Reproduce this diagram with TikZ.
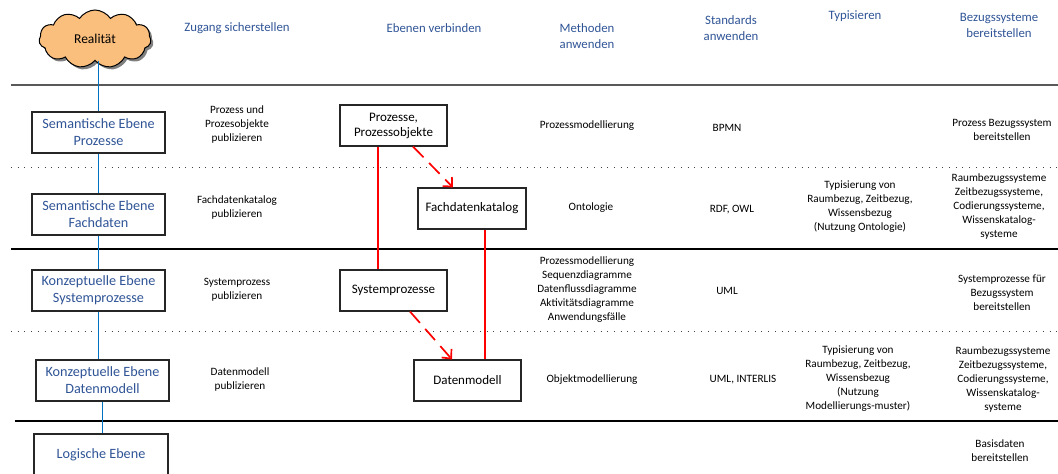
\documentclass[tikz,border=0pt]{standalone}
\usepackage{fontspec}
\setmainfont{Carlito}
\usetikzlibrary{shapes.symbols,shadows,arrows.meta}
\definecolor{hdrblue}{RGB}{47,84,150}
\definecolor{linkblue}{RGB}{0,112,192}
\definecolor{cloudfill}{RGB}{250,190,125}
\definecolor{linkred}{RGB}{255,0,0}

\begin{document}
\begin{tikzpicture}[x=1pt,y=-1pt,
  box/.style={draw=black!85, line width=1.1pt, minimum width=133pt, minimum height=41pt,
              inner sep=0pt, align=center},
  levelbox/.style={box, text=hdrblue, font=\fontsize{14.2}{17}\selectfont},
  linkbox/.style={box, minimum width=107pt, font=\fontsize{13}{15}\selectfont},
  note/.style={align=center, inner sep=0pt, font=\fontsize{11.2}{14}\selectfont},
  head/.style={align=center, inner sep=0pt, text=hdrblue, font=\fontsize{12.8}{16}\selectfont},
  tier/.style={line width=1.2pt, draw=black},
  toptier/.style={line width=1.8pt, draw=black!65},
  subtier/.style={line width=0.9pt, draw=black!75, dash pattern=on 0.9pt off 5.8pt},
  levellink/.style={draw=linkblue, line width=1.3pt},
  redlink/.style={draw=linkred, line width=1.7pt},
  reddash/.style={redlink, dash pattern=on 15pt off 8pt,
                  -{Straight Barb[length=7pt,width=13pt,line width=1.7pt]}}
]
\useasboundingbox (0,0) rectangle (1058,474);
\clip (0,0) rectangle (1058,474);

% horizontal separators between the layers
\draw[toptier] (11,85) -- (1058,85);
\draw[subtier] (11,167) -- (1058,167);
\draw[tier] (11,249) -- (1058,249);
\draw[subtier] (11,331) -- (1058,331);
\draw[tier] (15,421) -- (1058,421);

% column headers
\node[head] (h1) at (237,28) {Zugang sicherstellen};
\node[head] (h2) at (434,28) {Ebenen verbinden};
\node[head] (h3) at (587,36) {Methoden\\anwenden};
\node[head] (h4) at (731,28) {Standards\\anwenden};
\node[head] (h5) at (855,16) {Typisieren};
\node[head] (h6) at (999,25) {Bezugssysteme\\bereitstellen};

% reality cloud and the layer boxes
\node[cloud, cloud puffs=11, cloud puff arc=115, aspect=2.0, draw=black, line width=1pt,
      fill=cloudfill, minimum width=112pt, minimum height=58pt, inner sep=0pt,
      drop shadow={shadow xshift=2.5pt, shadow yshift=-2.5pt, fill=black!50, opacity=1},
      font=\fontsize{13.5}{15}\selectfont] (real) at (95,39) {Realität};

\node[levelbox] (sem1) at (98.5,132.5) {Semantische Ebene\\Prozesse};
\node[levelbox] (sem2) at (98.5,214.5) {Semantische Ebene\\Fachdaten};
\node[levelbox] (kon1) at (98.5,290.5) {Konzeptuelle Ebene\\Systemprozesse};
\node[levelbox] (kon2) at (102.5,380.5) {Konzeptuelle Ebene\\Datenmodell};
\node[levelbox, minimum width=134pt, minimum height=42pt] (log) at (101,455) {Logische Ebene};

\draw[levellink] (sem1.north) -- (sem1.north |- real.south);
\draw[levellink] (sem1.south) -- (sem2.north);
\draw[levellink] (sem2.south) -- (kon1.north);
\draw[levellink] (kon1.south) -- (kon1.south |- kon2.north);
\draw[levellink] (kon2.south) -- (kon2.south |- log.north);

% publication notes
\node[note] (p1) at (237,125) {Prozess und\\Prozesobjekte\\publizieren};
\node[note] (p2) at (237,208) {Fachdatenkatalog\\publizieren};
\node[note] (p3) at (237,290) {Systemprozess\\publizieren};
\node[note] (p4) at (240,380) {Datenmodell\\publizieren};

% linking boxes
\node[linkbox] (proz) at (393.5,125.5) {Prozesse,\\Prozessobjekte};
\node[linkbox, minimum width=108pt] (fach) at (472,208.5) {Fachdatenkatalog};
\node[linkbox] (sysp) at (393.5,290.5) {Systemprozesse};
\node[linkbox] (datm) at (467.5,380.5) {Datenmodell};

\draw[redlink] ([xshift=-15.5pt]proz.south) -- ([xshift=-15.5pt]proz.south |- sysp.north);
\draw[redlink] ([xshift=13pt]fach.south) -- ([xshift=13pt]fach.south |- datm.north);
\draw[reddash] ([xshift=19.5pt]proz.south) -- ([xshift=-19pt]fach.north);
\draw[reddash] ([xshift=16.5pt]sysp.south) -- ([xshift=-15.5pt]datm.north);

% methods
\node[note] (m1) at (587,126) {Prozessmodellierung};
\node[note] (m2) at (591,208) {Ontologie};
\node[note] (m3) at (587,290) {Prozessmodellierung\\Sequenzdiagramme\\Datenflussdiagramme\\Aktivitätsdiagramme\\Anwendungsfälle};
\node[note] (m4) at (592,380) {Objektmodellierung};

% standards
\node[note] (s1) at (727,128) {BPMN};
\node[note] (s2) at (732,210) {RDF, OWL};
\node[note] (s3) at (727,291) {UML};
\node[note] (s4) at (743,380) {UML, INTERLIS};

% typing
\node[note] (t1) at (860,207) {Typisierung von\\Raumbezug, Zeitbezug,\\Wissensbezug\\(Nutzung Ontologie)};
\node[note] (t2) at (858,379) {Typisierung von\\Raumbezug, Zeitbezug,\\Wissensbezug\\(Nutzung\\Modellierungs-muster)};

% reference systems
\node[note] (b1) at (1002,130) {Prozess Bezugssystem\\bereitstellen};
\node[note] (b2) at (999,207) {Raumbezugssysteme\\Zeitbezugssysteme,\\Codierungssysteme,\\Wissenskatalog-\\systeme};
\node[note] (b3) at (1002,293) {Systemprozesse für\\Bezugssystem\\bereitstellen};
\node[note] (b4) at (1003,380) {Raumbezugssysteme\\Zeitbezugssysteme,\\Codierungssysteme,\\Wissenskatalog-\\systeme};
\node[note] (b5) at (1000,451) {Basisdaten\\bereitstellen};
\end{tikzpicture}
\end{document}
